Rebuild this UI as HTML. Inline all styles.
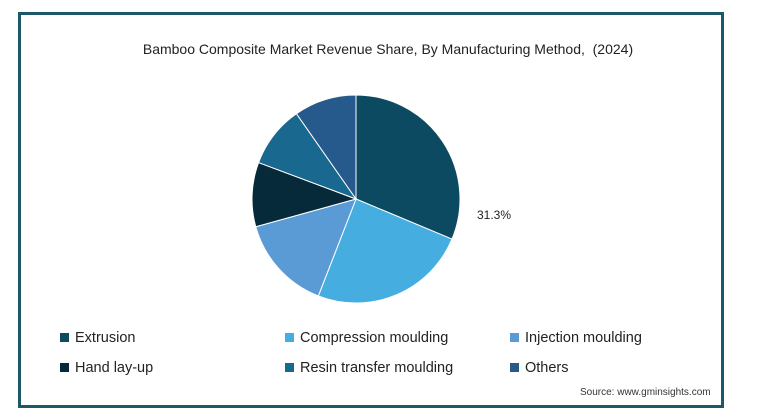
<!DOCTYPE html>
<html><head><meta charset="utf-8"><style>
body{margin:0;width:766px;height:411px;background:#fff;overflow:hidden;font-family:"Liberation Sans",sans-serif;}
#frame{position:absolute;left:18px;top:12px;width:700px;height:390px;border:3px solid #1d5869;}
.t{position:absolute;color:#222;white-space:nowrap;}
.lg{position:absolute;font-size:14.5px;color:#222;white-space:nowrap;}
.lg span{display:inline-block;width:9px;height:9px;margin-right:6px;vertical-align:0px;}
</style></head><body>
<div id="frame"></div>
<div class="t" style="left:0;width:776px;text-align:center;top:41px;font-size:14px;">Bamboo Composite Market Revenue Share, By Manufacturing Method,&nbsp; (2024)</div>
<svg id="pie" width="766" height="411" style="position:absolute;left:0;top:0"></svg>
<div class="t" style="left:477px;top:208px;font-size:12px;">31.3%</div>
<div id="legend"></div>
<div class="t" style="left:580px;top:387px;font-size:10px;color:#333;">Source: www.gminsights.com</div>
<script>
const categories=["Extrusion","Compression moulding","Injection moulding","Hand lay-up","Resin transfer moulding","Others"];
const shares=[31.3,24.6,14.8,10.0,9.6,9.7];
const colors=["#0b4a60","#45ade0","#5b9bd5","#062a3a","#19688f","#265a8c"];
const cx=356,cy=199,r=104;
const svg=document.getElementById('pie');
const total=shares.reduce((a,b)=>a+b,0);
let a0=0;
shares.forEach((v,i)=>{
  const a1=a0+v/total*2*Math.PI;
  const x0=cx+r*Math.sin(a0),y0=cy-r*Math.cos(a0),x1=cx+r*Math.sin(a1),y1=cy-r*Math.cos(a1);
  const p=document.createElementNS("http://www.w3.org/2000/svg","path");
  p.setAttribute('d',`M${cx},${cy}L${x0},${y0}A${r},${r} 0 ${a1-a0>Math.PI?1:0} 1 ${x1},${y1}Z`);
  p.setAttribute('fill',colors[i]);p.setAttribute('stroke','#fff');p.setAttribute('stroke-width','1');
  
  
  svg.appendChild(p);a0=a1;
});
const lx=[60,285,510],ly=[330,360];
const lg=document.getElementById('legend');
categories.forEach((c,i)=>{
  const d=document.createElement('div');d.className='lg';
  d.style.left=lx[i%3]+'px';d.style.top=ly[Math.floor(i/3)]+'px';
  d.innerHTML=`<span style="background:${colors[i]}"></span>${c}`;
  
  
  lg.appendChild(d);
});
</script>
</body></html>
